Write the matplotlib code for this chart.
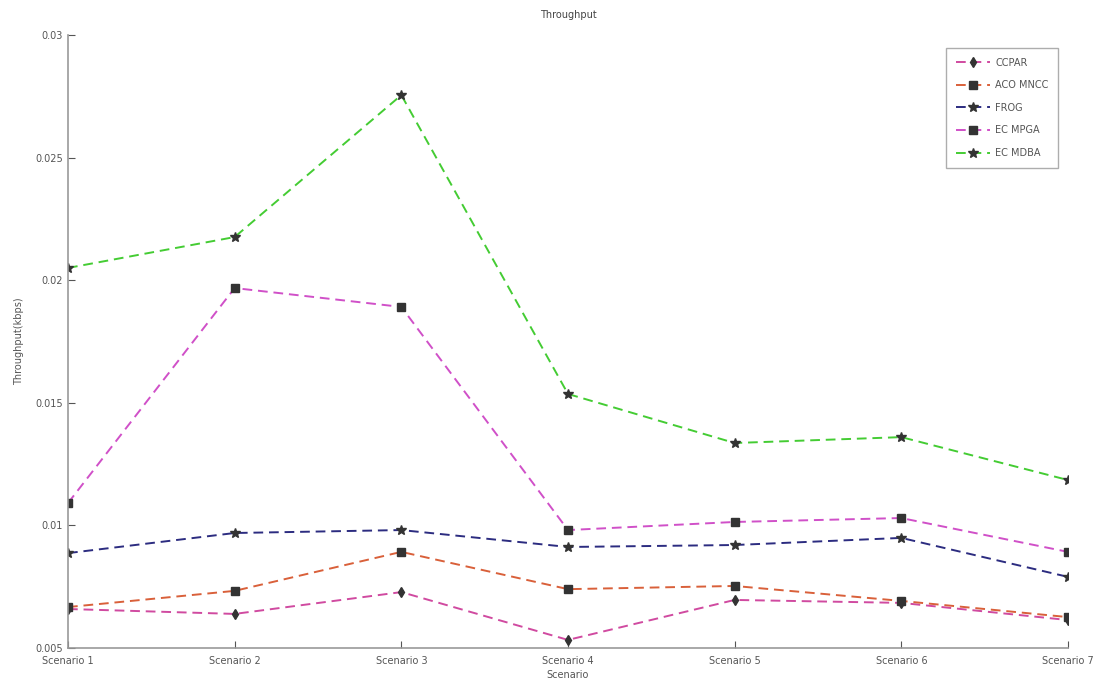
import matplotlib
matplotlib.use("Agg")
import matplotlib.pyplot as plt

scenarios = ["Scenario 1", "Scenario 2", "Scenario 3", "Scenario 4",
             "Scenario 5", "Scenario 6", "Scenario 7"]
ccpar = [0.00659, 0.00639, 0.00728, 0.00533, 0.00696, 0.00684, 0.00614]
aco_mncc = [0.00667, 0.00733, 0.00892, 0.00740, 0.00753, 0.00692, 0.00626]
frog = [0.00887, 0.00969, 0.00981, 0.00912, 0.00920, 0.00949, 0.00790]
ec_mpga = [0.01091, 0.01968, 0.01891, 0.00981, 0.01014, 0.01030, 0.00892]
ec_mdba = [0.02050, 0.02176, 0.02755, 0.01536, 0.01336, 0.01360, 0.01185]
series_names = ["CCPAR", "ACO MNCC", "FROG", "EC MPGA", "EC MDBA"]
y_ticks = [0.005, 0.01, 0.015, 0.02, 0.025, 0.03]
y_tick_labels = ["0.005", "0.01", "0.015", "0.02", "0.025", "0.03"]

fig = plt.figure(figsize=(11, 6.87), dpi=100)
ax = fig.add_axes([68/1100, 1 - 648/687, 1000/1100, 613/687])

x = list(range(len(scenarios)))
styles = [
    (ccpar, "#d04aa0", "d", 5),
    (aco_mncc, "#d9603a", "s", 6),
    (frog, "#2c2c80", "*", 7),
    (ec_mpga, "#d050c8", "s", 6),
    (ec_mdba, "#44cc33", "*", 7),
]
for (vals, col, mk, ms), name in zip(styles, series_names):
    ax.plot(x, vals, linestyle=(0, (5, 3)), color=col, linewidth=1.4,
            marker=mk, markersize=ms, markerfacecolor="#333333",
            markeredgecolor="#333333", label=name)

ax.set_xlim(0, 6)
ax.set_ylim(0.005, 0.03)
ax.set_xticks(x)
ax.set_xticklabels(scenarios)
ax.set_yticks(y_ticks)
ax.set_yticklabels(y_tick_labels)
ax.tick_params(axis="both", labelsize=7, colors="#555555", direction="in", length=5)
ax.tick_params(axis="x", pad=6)
for s in ["top", "right"]:
    ax.spines[s].set_visible(False)
for s in ["left", "bottom"]:
    ax.spines[s].set_color("#999999")
    ax.spines[s].set_linewidth(1.2)

ax.set_title("Throughput", fontsize=7, color="#444444", pad=12)
ax.set_xlabel("Scenario", fontsize=7, color="#555555", labelpad=3)
ax.set_ylabel("Throughput(kbps)", fontsize=7, color="#555555", labelpad=8)

leg = ax.legend(loc="upper right", bbox_to_anchor=(0.995, 0.987), fontsize=7,
                frameon=True, fancybox=False, edgecolor="#999999",
                handlelength=3.5, borderpad=1.0, labelspacing=1.3,
                handletextpad=0.5)
for t in leg.get_texts():
    t.set_color("#555555")

fig.savefig("out.png", dpi=100)
